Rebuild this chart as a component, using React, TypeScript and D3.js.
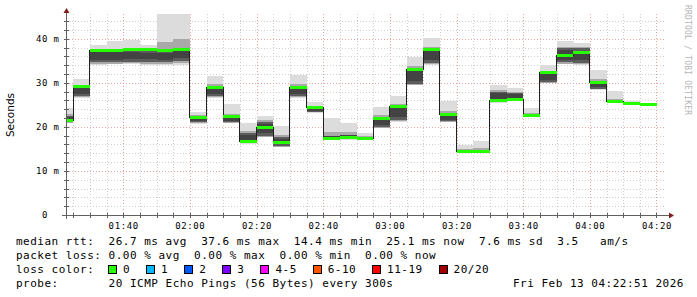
import React from "react";
import * as d3 from "d3";

const W = 697;
const H = 297;

// time window of the graph
const startTime = new Date(2026, 1, 13, 1, 22, 51);
const endTime = new Date(2026, 1, 13, 4, 22, 51);
const firstBin = new Date(2026, 1, 13, 1, 20, 0);
const stepMinutes = 5;

// per 5-minute bin: median rtt and smoke spread (ms)
const median = [21.4, 29.1, 37.4, 37.4, 37.5, 37.5, 37.4, 37.5, 22.2, 29.0, 22.3, 16.6, 19.9, 16.4, 29.0, 24.4, 17.4, 17.5, 17.4, 21.9, 24.6, 33.0, 37.6, 22.7, 14.4, 14.4, 25.9, 26.1, 22.6, 32.3, 36.1, 36.8, 30.1, 25.8, 25.2, 25.1];
const rttMax = [24.3, 30.8, 38.5, 39.5, 39.8, 38.5, 48.0, 48.0, 23.3, 31.6, 25.2, 20.8, 22.4, 20.2, 31.7, 25.7, 21.9, 20.8, 18.5, 24.4, 27.0, 35.9, 40.1, 25.9, 15.9, 16.8, 29.5, 28.7, 24.2, 34.0, 39.5, 39.1, 33.0, 28.1, 25.9, 25.4];
const rttHi = [22.5, 29.2, 37.3, 37.3, 37.3, 37.2, 37.2, 37.8, 22.4, 29.3, 22.4, 18.5, 21.2, 17.6, 29.3, 24.6, 18.0, 18.2, 17.8, 22.2, 24.8, 33.2, 37.7, 22.9, 14.8, 14.7, 28.0, 27.6, 23.0, 32.3, 37.8, 37.8, 30.3, 26.0, 25.4, 25.2];
const rttLo = [21.1, 26.9, 34.6, 34.6, 34.8, 34.8, 34.6, 35.0, 21.0, 26.9, 21.0, 16.4, 17.9, 15.6, 26.9, 23.4, 17.2, 17.2, 17.3, 20.0, 21.5, 29.8, 34.5, 21.3, 14.3, 14.3, 26.0, 26.2, 22.5, 30.1, 34.6, 34.5, 28.6, 25.7, 25.2, 25.0];
const rttMin = [20.9, 26.6, 34.0, 34.2, 34.2, 34.0, 34.0, 34.0, 20.7, 26.6, 20.9, 16.2, 17.7, 15.4, 26.6, 23.2, 17.0, 17.1, 17.2, 19.7, 21.2, 29.4, 34.0, 21.1, 14.2, 14.2, 25.4, 25.9, 22.4, 29.9, 34.2, 34.0, 28.4, 25.5, 25.1, 25.0];

const yTicks = [0, 10, 20, 30, 40];
const yUnit = "m";
const yMinorStep = 2;
const xMinorMinutes = 5;
const xMajorMinutes = 20;

const legendRtt = "median rtt:  26.7 ms avg  37.6 ms max  14.4 ms min  25.1 ms now  7.6 ms sd  3.5   am/s";
const legendLoss = "packet loss: 0.00 % avg  0.00 % max  0.00 % min  0.00 % now";
const legendColorTitle = "loss color:";
const lossLabels = ["0", "1", "2", "3", "4-5", "6-10", "11-19", "20/20"];
const lossColors = ["#26ff00", "#00b8ff", "#0059ff", "#7e00ff", "#ff00ff", "#ff5500", "#ff0000", "#a10000"];
const legendProbe = "probe:       20 ICMP Echo Pings (56 Bytes) every 300s";
const legendDate = "Fri Feb 13 04:22:51 2026";
const yTitle = "Seconds";
const watermark = "RRDTOOL / TOBI OETIKER";

const PL = 66, PR = 666, PT = 14, PB = 215;
const MONO = "'DejaVu Sans Mono', monospace";

export default function App() {
  const x = d3.scaleTime().domain([startTime, endTime]).range([PL, PR]);
  const y = d3.scaleLinear().domain([0, 45.6]).range([PB, PT]);

  const bins = median.map((m, i) => ({
    t0: d3.timeMinute.offset(firstBin, stepMinutes * i),
    t1: d3.timeMinute.offset(firstBin, stepMinutes * (i + 1)),
    med: m,
    mn: rttMin[i],
    lo: rttLo[i],
    hi: rttHi[i],
    mx: rttMax[i],
  }));

  const minorTimes = d3.timeMinute.every(xMinorMinutes)!.range(startTime, endTime);
  const majorTimes = minorTimes.filter((t) => t.getMinutes() % xMajorMinutes === 0);
  const fmt = d3.timeFormat("%H:%M");
  const yMinor = d3.range(yMinorStep, y.domain()[1], yMinorStep).filter((v) => v % 10 !== 0);
  const yMajor = yTicks.filter((v) => v > 0);

  const stepPts: [Date, number][] = bins.map((b) => [b.t0, b.med] as [Date, number]);
  stepPts.push([bins[bins.length - 1].t1, bins[bins.length - 1].med]);
  const stepLine = d3
    .line<[Date, number]>()
    .x((d) => x(d[0]))
    .y((d) => y(d[1]))
    .curve(d3.curveStepAfter)(stepPts);

  const rectV = (top: number, bot: number) => ({ y: y(top), h: Math.max(0, y(bot) - y(top)) });

  // legend boxes layout
  let lx = 108;
  const lossItems = lossLabels.map((l, i) => {
    const item = { x: lx, label: l, color: lossColors[i] };
    lx += 15 + l.length * 7.1 + 16;
    return item;
  });

  return (
    <svg width={W} height={H} style={{ display: "block", position: "absolute", left: 0, top: 0 }}>
      <rect width={W} height={H} fill="#ffffff" />
      <defs>
        <clipPath id="plot">
          <rect x={PL} y={PT} width={PR - PL} height={PB - PT} />
        </clipPath>
      </defs>

      {/* grid */}
      <g shapeRendering="crispEdges">
        {minorTimes.map((t, i) => (
          <line key={"vx" + i} x1={Math.round(x(t)) + 0.5} x2={Math.round(x(t)) + 0.5} y1={PT} y2={PB}
            stroke={t.getMinutes() % xMajorMinutes === 0 ? "#e8a3a3" : "#cfcfcf"} strokeDasharray="1,2" />
        ))}
        {yMinor.map((v) => (
          <line key={"hy" + v} x1={PL} x2={PR} y1={Math.round(y(v)) + 0.5} y2={Math.round(y(v)) + 0.5}
            stroke="#cfcfcf" strokeDasharray="1,2" />
        ))}
        {yMajor.map((v) => (
          <line key={"HY" + v} x1={PL} x2={PR} y1={Math.round(y(v)) + 0.5} y2={Math.round(y(v)) + 0.5}
            stroke="#e8a3a3" strokeDasharray="1,2" />
        ))}
      </g>

      {/* smoke */}
      <g clipPath="url(#plot)" shapeRendering="crispEdges">
        {bins.map((b, i) => {
          const x0 = x(b.t0);
          const w = x(b.t1) - x0;
          const outer = rectV(b.mx, b.mn);
          const mid = rectV(b.hi + (b.mx - b.hi) * 0.2, b.mn + (b.lo - b.mn) * 0.4);
          const core = rectV(b.hi, b.lo);
          const inner = rectV(b.hi - (b.hi - b.lo) * 0.15, b.lo + (b.hi - b.lo) * 0.2);
          return (
            <g key={"s" + i}>
              <rect x={x0} width={w} y={outer.y} height={outer.h} fill="#dcdcdc" />
              <rect x={x0} width={w} y={mid.y} height={mid.h} fill="#a9a9a9" />
              <rect x={x0} width={w} y={core.y} height={core.h} fill="#5c5c5c" />
              <rect x={x0} width={w} y={inner.y} height={inner.h} fill="#434343" />
            </g>
          );
        })}
        <path d={stepLine || ""} fill="none" stroke="#202020" strokeWidth={1} />
        {bins.map((b, i) => (
          <rect key={"m" + i} x={x(b.t0)} width={x(b.t1) - x(b.t0)} y={y(b.med) - 1.5} height={3} fill={lossColors[0]} />
        ))}
      </g>

      {/* axes */}
      <g shapeRendering="crispEdges" stroke="#606060">
        <line x1={PL + 0.5} x2={PL + 0.5} y1={PB + 4} y2={PT - 2} />
        <line x1={PL - 4} x2={PR + 4} y1={PB + 0.5} y2={PB + 0.5} />
        {yMinor.concat(yMajor).map((v) => (
          <line key={"ty" + v} x1={PL - 2} x2={PL + 3} y1={Math.round(y(v)) + 0.5} y2={Math.round(y(v)) + 0.5} />
        ))}
        {minorTimes.map((t, i) => (
          <line key={"tx" + i} x1={Math.round(x(t)) + 0.5} x2={Math.round(x(t)) + 0.5} y1={PB - 2} y2={PB + 3} />
        ))}
      </g>
      <path d={`M${PL - 2.5},${PT - 1} L${PL + 3.5},${PT - 1} L${PL + 0.5},${PT - 6} Z`} fill="#7f1f1f" />
      <path d={`M${PR + 3},${PB - 2.5} L${PR + 3},${PB + 3.5} L${PR + 8},${PB + 0.5} Z`} fill="#7f1f1f" />

      {/* y labels */}
      <g fontFamily={MONO} fontSize={9} letterSpacing={0.6} fill="#000">
        {yTicks.map((v) => (
          <g key={"yl" + v}>
            <text x={48} y={y(v) + 3.4} textAnchor="end">{d3.format("d")(v)}</text>
            {v > 0 && <text x={53.5} y={y(v) + 3.4}>{yUnit}</text>}
          </g>
        ))}
        {majorTimes.map((t, i) => (
          <text key={"xl" + i} x={x(t) + 0.5} y={228.5} textAnchor="middle">{fmt(t)}</text>
        ))}
      </g>

      <text transform="translate(14,115) rotate(-90)" textAnchor="middle" fontFamily="'DejaVu Sans', sans-serif" fontSize={10.5} fill="#000">
        {yTitle}
      </text>
      <text transform="translate(685,5) rotate(90)" fontFamily={MONO} fontSize={8} letterSpacing={0.2} fill="#b4b4b4">
        {watermark}
      </text>

      {/* legend */}
      <g fontFamily={MONO} fontSize={11} letterSpacing={0.5} fill="#000" style={{ whiteSpace: "pre" }}>
        <text x={16} y={245} xmlSpace="preserve">{legendRtt}</text>
        <text x={16} y={259} xmlSpace="preserve">{legendLoss}</text>
        <text x={16} y={273} xmlSpace="preserve">{legendColorTitle}</text>
        {lossItems.map((it, i) => (
          <g key={"lg" + i}>
            <rect x={Math.round(it.x) + 0.5} y={265.5} width={8} height={8} fill={it.color} stroke="#000" strokeWidth={1} />
            <text x={it.x + 15} y={273}>{it.label}</text>
          </g>
        ))}
        <text x={16} y={287} xmlSpace="preserve">{legendProbe}</text>
        <text x={513} y={287}>{legendDate}</text>
      </g>
    </svg>
  );
}
